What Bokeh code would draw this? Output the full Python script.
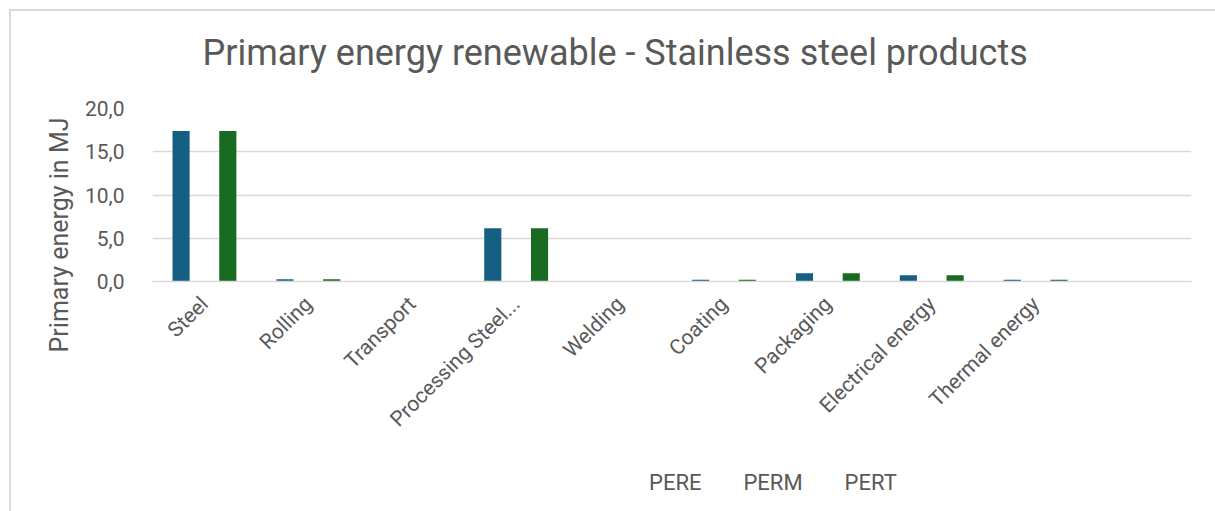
import math
from bokeh.plotting import figure
from bokeh.layouts import column
from bokeh.models import (FactorRange, Range1d, Legend, LegendItem, Title,
                          FixedTicker, CustomJSTickFormatter)
from bokeh.transform import dodge
from bokeh.embed import file_html
from bokeh.resources import INLINE

# --- data -------------------------------------------------------------
categories = ["Steel", "Rolling", "Transport", "Processing Steel...", "Welding",
              "Coating", "Packaging", "Electrical energy", "Thermal energy", " "]
pere = [17.4, 0.25, 0.0, 6.15, 0.0, 0.2, 0.95, 0.72, 0.2, 0.0]
perm = [0.0, 0.0, 0.0, 0.0, 0.0, 0.0, 0.0, 0.0, 0.0, 0.0]
pert = [17.4, 0.25, 0.0, 6.15, 0.0, 0.2, 0.95, 0.72, 0.2, 0.0]
series_names = ["PERE", "PERM", "PERT"]
series_colors = ["#156082", "#E97132", "#196B24"]
y_ticks = [0, 5, 10, 15, 20]

title_text = "Primary energy renewable - Stainless steel products"
y_title = "Primary energy in MJ"

TEXT = "#595959"
GRID = "#d9d9d9"
FONT = "Roboto"

# chart area sits 9px in from the page corner, with a light border
INSET = 9
BW = 2
LEFT, RIGHT, TOP, BOTTOM = 152 - INSET - BW, 24, 108 - INSET - BW, 155
FRAME_W, FRAME_H = 1039, 173
TOTAL_W = LEFT + FRAME_W + RIGHT
LEGEND_H = 511 - INSET - BW - (TOP + FRAME_H + BOTTOM)

p = figure(frame_width=FRAME_W, frame_height=FRAME_H,
           x_range=FactorRange(*categories),
           y_range=Range1d(0, 20), output_backend="svg", toolbar_location=None,
           min_border_left=LEFT, min_border_right=RIGHT,
           min_border_top=TOP, min_border_bottom=BOTTOM)
p.outline_line_color = None
p.background_fill_color = "white"
p.border_fill_color = "white"

source = dict(cat=categories, PERE=pere, PERM=perm, PERT=pert)
offsets = [-0.225, 0.0, 0.225]
for name, col, off in zip(series_names, series_colors, offsets):
    p.vbar(x=dodge("cat", off, range=p.x_range), top=name, width=0.165,
           source=source, fill_color=col, line_color=None)

# axes
p.yaxis.ticker = FixedTicker(ticks=y_ticks)
p.yaxis.formatter = CustomJSTickFormatter(code="return tick.toFixed(1).replace('.', ',');")
p.yaxis.axis_line_color = None
p.yaxis.major_tick_line_color = None
p.yaxis.minor_tick_line_color = None
p.yaxis.major_label_standoff = 22
p.yaxis.major_label_text_font = FONT
p.yaxis.major_label_text_font_size = "21px"
p.yaxis.major_label_text_color = TEXT

p.xaxis.axis_line_color = GRID
p.xaxis.axis_line_width = 1.5
p.xaxis.major_tick_line_color = None
p.xaxis.minor_tick_line_color = None
p.xaxis.major_label_orientation = math.pi / 4
p.xaxis.major_label_standoff = 13
p.xaxis.major_label_text_font = FONT
p.xaxis.major_label_text_font_size = "21px"
p.xaxis.major_label_text_color = TEXT

p.xgrid.grid_line_color = None
p.ygrid.grid_line_color = GRID
p.ygrid.grid_line_width = 1.5

# gap between plot area and chart title
p.add_layout(Title(text=" ", text_font_size="1px", standoff=27), "above")
# chart title
p.add_layout(Title(text=title_text, align="left", offset=50, standoff=10,
                   text_font=FONT, text_font_size="36px", text_font_style="normal",
                   text_color=TEXT), "above")

# vertical axis title
p.add_layout(Title(text=y_title, align="right", offset=9, standoff=16,
                   text_font=FONT, text_font_size="25px", text_font_style="normal",
                   text_color=TEXT), "left")

# legend strip underneath the chart
leg = figure(width=TOTAL_W, height=LEGEND_H, x_range=Range1d(0, 1), y_range=Range1d(0, 1),
             output_backend="svg", toolbar_location=None, min_border=0,
             x_axis_location=None, y_axis_location=None)
leg.outline_line_color = None
leg.border_fill_color = "white"
leg.background_fill_color = "white"
leg.grid.visible = False
keys = [leg.vbar(x=[], top=[], width=0.1, fill_color=col, line_color=None)
        for col in series_colors]
legend = Legend(items=[LegendItem(label=n, renderers=[r]) for n, r in zip(series_names, keys)],
                orientation="horizontal", location=(485 - INSET - BW, 22),
                padding=0, margin=0, spacing=19, label_standoff=5,
                glyph_width=18, glyph_height=18, label_height=22,
                label_text_font=FONT, label_text_font_size="22px", label_text_color=TEXT,
                border_line_color=None, background_fill_color=None)
leg.add_layout(legend, "center")

page = column(p, leg, spacing=0,
              styles={"margin-left": f"{INSET}px", "margin-top": f"{INSET}px",
                      "border-top": f"{BW}px solid {GRID}",
                      "border-left": f"{BW}px solid {GRID}"})

open("out.html", "w").write(file_html(page, INLINE))
